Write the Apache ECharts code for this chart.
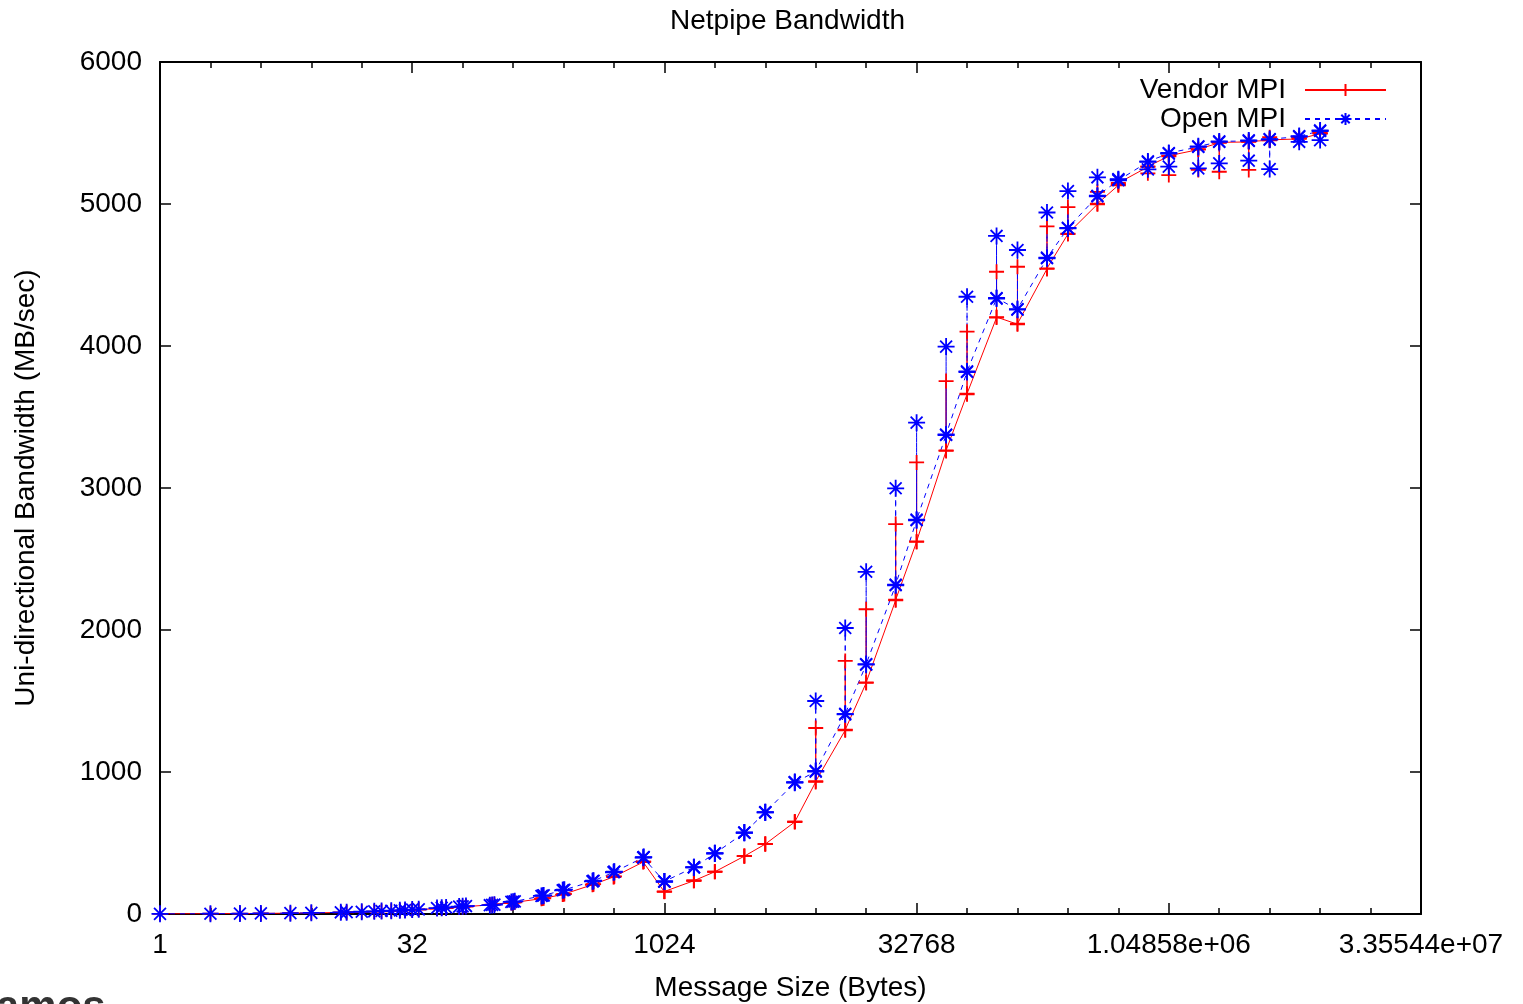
<!DOCTYPE html>
<html>
<head>
<meta charset="utf-8">
<title>Netpipe Bandwidth</title>
<script src="https://cdn.jsdelivr.net/npm/echarts@6/dist/echarts.min.js"></script>
<style>
  html, body { margin: 0; padding: 0; background: #fff; }
  #main { width: 1523px; height: 1004px; }
</style>
</head>
<body>
<div id="main"></div>
<script>
// message sizes (bytes), netpipe with +-3 perturbation
var sizes = [1, 2, 3, 4, 6, 8, 12, 13, 16, 19, 21, 24, 27, 29, 32, 35, 45, 48, 51, 61, 64, 67,
  93, 96, 99, 125, 128, 131, 189, 192, 195, 253, 256, 259, 381, 384, 387, 509, 512, 515,
  765, 768, 771, 1021, 1024, 1027, 1533, 1536, 1539, 2045, 2048, 2051, 3069, 3072, 3075,
  4093, 4096, 4099, 6141, 6144, 6147, 8189, 8192, 8195, 12285, 12288, 12291,
  16381, 16384, 16387, 24573, 24576, 24579, 32765, 32768, 32771, 49149, 49152, 49155,
  65533, 65536, 65539, 98301, 98304, 98307, 131069, 131072, 131075, 196605, 196608, 196611,
  262141, 262144, 262147, 393213, 393216, 393219, 524285, 524288, 524291,
  786429, 786432, 786435, 1048573, 1048576, 1048579, 1572861, 1572864, 1572867,
  2097149, 2097152, 2097155, 3145725, 3145728, 3145731, 4194301, 4194304, 4194307,
  6291453, 6291456, 6291459, 8388605, 8388608, 8388611];

// MB/sec
var vendorMPI = [1, 2, 3, 4, 6, 8, 11, 12, 15, 17, 19, 22, 24, 26, 29, 31, 38, 40, 42, 48, 50, 52,
  64, 66, 68, 78, 80, 82, 108, 110, 111, 137, 139, 141, 206, 209, 210, 261, 263, 265,
  366, 368, 369, 158, 157, 158, 234, 235, 236, 297, 298, 299, 407, 408, 409,
  492, 493, 494, 648, 650, 651, 930, 1310, 935, 1294, 1782, 1298,
  1627, 2146, 1631, 2209, 2746, 2213, 2620, 3180, 2624, 3261, 3753, 3265,
  3660, 4101, 3664, 4200, 4523, 4204, 4153, 4558, 4157, 4543, 4842, 4547,
  4788, 4978, 4792, 4998, 5086, 5002, 5132, 5148, 5136,
  5261, 5216, 5265, 5336, 5204, 5340, 5383, 5240, 5387,
  5430, 5227, 5434, 5437, 5240, 5441, 5448, 5470, 5452,
  5458, 5462, 5465, 5495, 5497, 5500];

var openMPI = [1, 2, 3, 4, 6, 8, 12, 13, 16, 19, 21, 23, 26, 28, 31, 33, 42, 44, 46, 52, 54, 56,
  62, 64, 66, 85, 87, 89, 127, 129, 131, 167, 169, 171, 230, 232, 234, 294, 296, 298,
  397, 399, 401, 229, 228, 229, 328, 329, 330, 426, 427, 428, 572, 573, 574,
  715, 716, 717, 925, 927, 929, 1003, 1500, 1008, 1406, 2014, 1410,
  1756, 2410, 1760, 2315, 2998, 2319, 2773, 3460, 2777, 3373, 3996, 3377,
  3817, 4347, 3821, 4334, 4775, 4338, 4256, 4676, 4260, 4618, 4940, 4622,
  4828, 5091, 4832, 5054, 5188, 5058, 5167, 5175, 5171,
  5296, 5244, 5300, 5355, 5263, 5359, 5402, 5251, 5406,
  5437, 5286, 5441, 5444, 5305, 5448, 5453, 5246, 5457,
  5474, 5438, 5478, 5514, 5450, 5518];

var xTickValues = [0, 5, 10, 15, 20, 25]; // powers of two shown on the axis

var FONT = '"Liberation Sans", Helvetica, Arial, sans-serif';

// gnuplot style %g
function fmtG(v) {
  var n = Math.pow(2, v);
  if (n < 1e6) return String(Math.round(n));
  return n.toExponential(5).replace(/e\+(\d)$/, 'e+0$1');
}

function toPoints(vals) {
  var out = [];
  for (var i = 0; i < sizes.length; i++) {
    out.push([Math.log2(sizes[i]), vals[i]]);
  }
  return out;
}

var plusPath = 'path://M5,0L5,10M0,5L10,5';
var starPath = 'path://M5,0L5,10M0,5L10,5M1.5,1.5L8.5,8.5M8.5,1.5L1.5,8.5';

var myChart = echarts.init(document.getElementById('main'), null, { renderer: 'canvas' });

var axisLineStyle = { color: '#000', width: 2 };

option = {
  animation: false,
  backgroundColor: '#fff',
  title: {
    text: 'Netpipe Bandwidth',
    left: 670,
    top: 7,
    padding: 0,
    textStyle: { fontSize: 28, fontWeight: 'normal', color: '#000', fontFamily: FONT }
  },
  legend: {
    data: ['Vendor MPI', 'Open MPI'],
    orient: 'vertical',
    right: 136,
    top: 76,
    align: 'right',
    padding: 0,
    itemGap: 1,
    itemWidth: 81,
    itemHeight: 15,
    textStyle: { fontSize: 28, color: '#000', fontFamily: FONT, padding: [0, 14, 0, 0] }
  },
  grid: {
    left: 160,
    right: 102,
    top: 62,
    bottom: 90,
    containLabel: false,
    outerBoundsMode: 'none'
  },
  xAxis: [{
    type: 'value',
    position: 'bottom',
    min: 0,
    max: 25,
    interval: 5,
    name: 'Message Size (Bytes)',
    nameLocation: 'middle',
    nameGap: 60,
    nameTextStyle: { fontSize: 28, color: '#000', fontFamily: FONT },
    axisLine: { onZero: false, lineStyle: axisLineStyle },
    axisTick: { inside: true, length: 11, lineStyle: { color: '#000', width: 1.5 } },
    minorTick: { show: true, splitNumber: 5, length: 6, lineStyle: { color: '#000', width: 1.5 } },
    splitLine: { show: false },
    axisLabel: {
      fontSize: 28, color: '#000', fontFamily: FONT, margin: 17,
      formatter: function(v) {
        return xTickValues.indexOf(v) >= 0 ? fmtG(v) : '';
      }
    }
  }, {
    type: 'value',
    position: 'top',
    min: 0,
    max: 25,
    interval: 5,
    axisLine: { onZero: false, lineStyle: axisLineStyle },
    axisTick: { inside: true, length: 11, lineStyle: { color: '#000', width: 1.5 } },
    minorTick: { show: true, splitNumber: 5, length: 6, lineStyle: { color: '#000', width: 1.5 } },
    splitLine: { show: false },
    axisLabel: { show: false }
  }],
  yAxis: [{
    type: 'value',
    position: 'left',
    min: 0,
    max: 6000,
    interval: 1000,
    name: 'Uni-directional Bandwidth (MB/sec)',
    nameLocation: 'middle',
    nameGap: 120,
    nameTextStyle: { fontSize: 28, color: '#000', fontFamily: FONT },
    axisLine: { show: true, onZero: false, lineStyle: axisLineStyle },
    axisTick: { show: true, inside: true, length: 11, lineStyle: { color: '#000', width: 1.5 } },
    splitLine: { show: false },
    axisLabel: {
      fontSize: 28, color: '#000', fontFamily: FONT, margin: 18,
      formatter: function(v) { return String(v); }
    }
  }, {
    type: 'value',
    position: 'right',
    min: 0,
    max: 6000,
    interval: 1000,
    axisLine: { show: true, onZero: false, lineStyle: axisLineStyle },
    axisTick: { show: true, inside: true, length: 11, lineStyle: { color: '#000', width: 1.5 } },
    splitLine: { show: false },
    axisLabel: { show: false }
  }],
  series: [{
    name: 'Vendor MPI',
    type: 'line',
    data: toPoints(vendorMPI),
    symbol: plusPath,
    symbolSize: 15,
    itemStyle: { color: '#ff0000', borderColor: '#ff0000', borderWidth: 1.8 },
    lineStyle: { color: '#ff0000', width: 1 }
  }, {
    name: 'Open MPI',
    type: 'line',
    data: toPoints(openMPI),
    symbol: starPath,
    symbolSize: 17,
    itemStyle: { color: '#0000ff', borderColor: '#0000ff', borderWidth: 1.8 },
    lineStyle: { color: '#0000ff', width: 1, type: [5, 5] }
  }],
  graphic: [{
    type: 'text',
    left: -4,
    top: 987,
    style: { text: 'amos', font: 'bold 42px ' + FONT, fill: '#333' }
  }]
};

myChart.setOption(option);
</script>
</body>
</html>
